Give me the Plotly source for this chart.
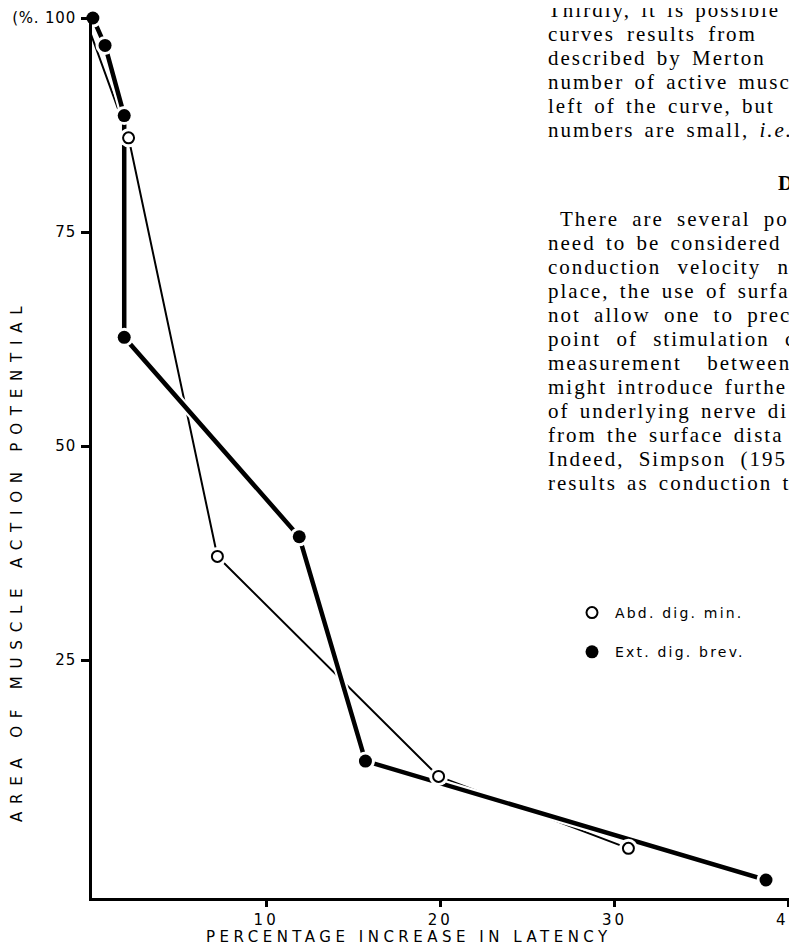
import plotly.graph_objects as go

# ---------------- data ----------------
abd_x = [-0.4, 2.1, 7.2, 19.9, 30.8]               # Abd. dig. min. (open circles)
abd_y = [100, 86.0, 37.1, 11.4, 3.0]
ext_x = [0.05, 0.75, 1.85, 1.85, 11.9, 15.7, 38.7]  # Ext. dig. brev. (filled circles)
ext_y = [100, 96.8, 88.6, 62.7, 39.4, 13.2, -0.7]
series_names = ["Abd. dig. min.", "Ext. dig. brev."]
x_tickvals = [10, 20, 30, 40]
x_ticktext = ["10", "20", "30", "40"]
y_tickvals = [25, 50, 75, 100]
y_ticktext = ["25", "50", "75", "(%. 100"]
x_title = "PERCENTAGE INCREASE IN LATENCY"
y_title = "AREA OF MUSCLE ACTION POTENTIAL"
body_block1 = [
    "Thirdly, it is possible",
    "curves results from",
    "described by Merton",
    "number of active musc",
    "left of the curve, but",
    "numbers are small, <i>i.e.</i>",
]
body_heading = "Di"
body_block2 = [
    "There are several po",
    "need to be considered",
    "conduction velocity n",
    "place, the use of surfac",
    "not allow one to prec",
    "point of stimulation c",
    "measurement between",
    "might introduce furthe",
    "of underlying nerve di",
    "from the surface dista",
    "Indeed, Simpson (195",
    "results as conduction ti",
]

# ---------------- layout / style constants ----------------
W, H = 797, 947
L, R, T, B = 84, 16, 10, 57
SANS = "DejaVu Sans"
SERIF = "Liberation Serif"
block1_ws = [3, 5, 3, 3, 3, 3]          # word spacing (justified lines)
block2_ws = [6, 3, 9, 3, 6, 8, 18, 3, 3, 3, 7, 3]


def px_x(px):
    return (px - L) / (W - L - R)


def px_y(py):
    return (H - B - py) / (H - T - B)


def sp(text, ls, ws=0):
    return f"<span style='letter-spacing:{ls}px;word-spacing:{ws}px'>{text}</span>"


fig = go.Figure()

# thin line (open circles)
fig.add_trace(go.Scatter(x=abd_x, y=abd_y, mode="lines",
                         line=dict(color="black", width=2),
                         showlegend=False, cliponaxis=False, hoverinfo="skip"))
# white underlay of thick line -> gaps where lines cross
fig.add_trace(go.Scatter(x=ext_x, y=ext_y, mode="lines",
                         line=dict(color="white", width=9),
                         showlegend=False, cliponaxis=False, hoverinfo="skip"))
# thick line (filled circles)
fig.add_trace(go.Scatter(x=ext_x, y=ext_y, mode="lines",
                         line=dict(color="black", width=4.5),
                         showlegend=False, cliponaxis=False, hoverinfo="skip"))
# white halos around markers
for xs, ys in ((abd_x, abd_y), (ext_x, ext_y)):
    fig.add_trace(go.Scatter(x=xs, y=ys, mode="markers",
                             marker=dict(color="white", size=19, line=dict(width=0)),
                             showlegend=False, cliponaxis=False, hoverinfo="skip"))
# markers
fig.add_trace(go.Scatter(x=abd_x, y=abd_y, mode="markers",
                         marker=dict(symbol="circle", color="white", size=11,
                                     line=dict(color="black", width=2)),
                         showlegend=False, cliponaxis=False))
fig.add_trace(go.Scatter(x=ext_x, y=ext_y, mode="markers",
                         marker=dict(symbol="circle", color="black", size=13,
                                     line=dict(color="black", width=0)),
                         showlegend=False, cliponaxis=False))
# legend entries
fig.add_trace(go.Scatter(x=[None], y=[None], mode="markers", name=sp(series_names[0], 2.2),
                         legendgroup="a",
                         marker=dict(symbol="circle", color="white", size=11,
                                     line=dict(color="black", width=2))))
fig.add_trace(go.Scatter(x=[None], y=[None], mode="markers", name=sp(series_names[1], 2.2),
                         legendgroup="b",
                         marker=dict(symbol="circle", color="black", size=13)))

fig.update_xaxes(range=[0, 40.02], showgrid=False, zeroline=False, automargin=False,
                 showline=True, linecolor="black", linewidth=3,
                 ticks="outside", ticklen=6, tickwidth=3, tickcolor="black",
                 tickvals=x_tickvals, ticktext=[sp(t, 3) for t in x_ticktext],
                 ticklabeloverflow="allow",
                 tickfont=dict(family=SANS, size=15, color="black"))
fig.update_yaxes(range=[-2.8, 100], showgrid=False, zeroline=False, automargin=False,
                 showline=True, linecolor="black", linewidth=3,
                 ticks="outside", ticklen=8, tickwidth=3, tickcolor="black",
                 tickvals=y_tickvals, ticktext=[sp(t, 0.8) for t in y_ticktext],
                 ticklabeloverflow="allow", ticklabelstandoff=2,
                 tickfont=dict(family=SANS, size=15, color="black"))

annotations = [
    dict(text=sp(x_title, 4.5), x=px_x(401), y=px_y(929), xref="paper", yref="paper",
         showarrow=False, xanchor="center", yanchor="middle",
         font=dict(family=SANS, size=15, color="black")),
    dict(text=sp(y_title, 7.8), x=px_x(9), y=px_y(553), xref="paper", yref="paper",
         showarrow=False, xanchor="center", yanchor="middle", textangle=-90,
         font=dict(family=SANS, size=15, color="black")),
]
LINE = 24
for i, t in enumerate(body_block1):
    annotations.append(dict(text=sp(t, 2, block1_ws[i]), x=px_x(538), y=px_y(2 + i * LINE),
                            xref="paper", yref="paper", showarrow=False,
                            xanchor="left", yanchor="middle",
                            font=dict(family=SERIF, size=21, color="black")))
annotations.append(dict(text=sp("<b>" + body_heading + "</b>", 2), x=px_x(768), y=px_y(175),
                        xref="paper", yref="paper", showarrow=False,
                        xanchor="left", yanchor="middle",
                        font=dict(family=SERIF, size=21, color="black")))
for i, t in enumerate(body_block2):
    annotations.append(dict(text=sp(t, 2, block2_ws[i]), x=px_x(550 if i == 0 else 538),
                            y=px_y(211 + i * LINE),
                            xref="paper", yref="paper", showarrow=False,
                            xanchor="left", yanchor="middle",
                            font=dict(family=SERIF, size=21, color="black")))

fig.update_layout(
    width=W, height=H,
    margin=dict(l=L, r=R, t=T, b=B, pad=0),
    paper_bgcolor="white", plot_bgcolor="white",
    showlegend=True,
    legend=dict(x=px_x(561), y=px_y(589), xanchor="left", yanchor="top",
                font=dict(family=SANS, size=14, color="black"),
                itemwidth=36, tracegroupgap=18, bgcolor="rgba(0,0,0,0)",
                traceorder="grouped"),
    annotations=annotations,
)

fig.write_html("out.html")
